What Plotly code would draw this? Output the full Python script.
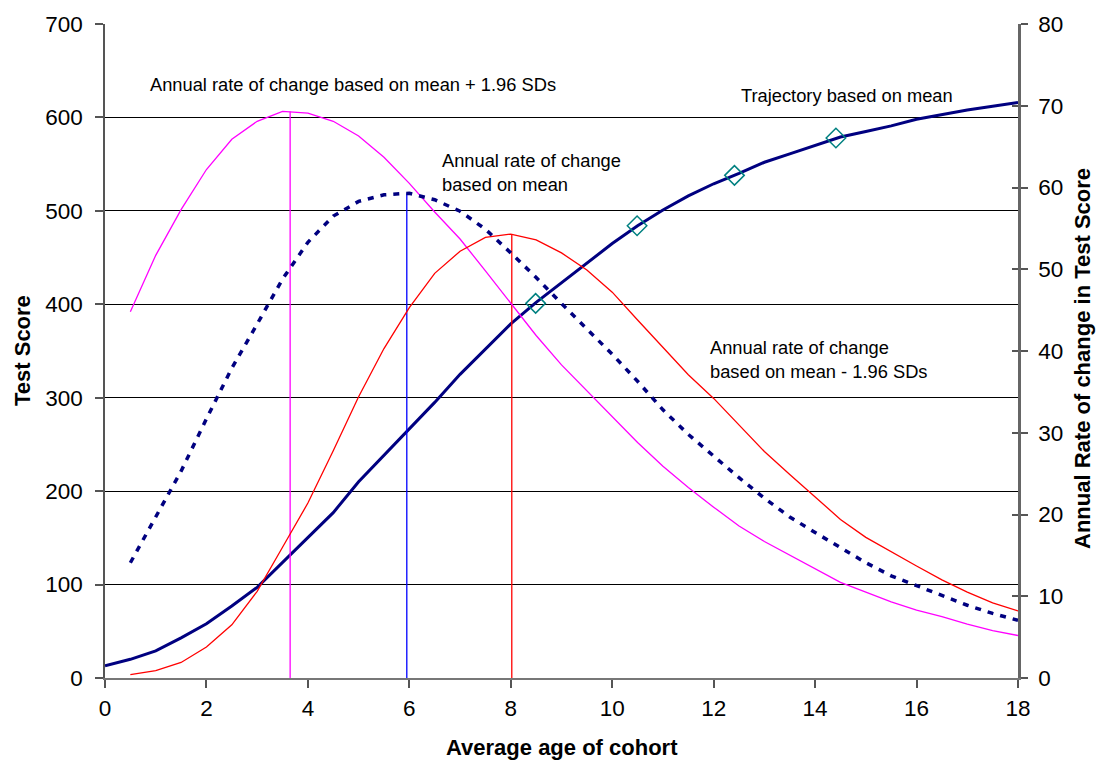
import plotly.graph_objects as go

# ---- data ----
ages_traj = [i * 0.5 for i in range(37)]          # 0 .. 18
trajectory = [13, 20, 29, 43, 58, 77, 97, 124, 151, 177, 210, 238, 266, 295, 325, 352,
              379, 402, 423, 444, 465, 484, 501, 516, 529, 540, 552, 561, 570, 579, 585,
              591, 598, 603, 608, 612, 616]

ages_rate = [0.5 + i * 0.5 for i in range(36)]    # 0.5 .. 18
rate_mean = [14.1, 19.6, 25.3, 31.7, 37.9, 43.3, 48.8, 53.3, 56.5, 58.3, 59.1, 59.3,
             58.5, 57.1, 54.9, 52.0, 49.0, 45.8, 42.7, 39.6, 36.3, 32.8, 29.8, 27.1,
             24.5, 22.0, 19.7, 17.8, 16.0, 14.1, 12.5, 11.3, 10.1, 8.9, 7.9, 7.05]
rate_plus = [44.8, 51.7, 57.3, 62.2, 65.9, 68.1, 69.3, 69.1, 68.1, 66.3, 63.7, 60.5,
             57.0, 53.7, 49.8, 45.8, 41.9, 38.3, 35.1, 31.9, 28.8, 25.9, 23.3, 20.9,
             18.6, 16.7, 15.0, 13.3, 11.7, 10.5, 9.3, 8.3, 7.5, 6.6, 5.8, 5.2]
rate_minus = [0.4, 0.9, 1.9, 3.8, 6.5, 10.6, 16.0, 21.4, 27.8, 34.4, 40.3, 45.3,
              49.5, 52.2, 53.9, 54.3, 53.6, 52.0, 49.9, 47.2, 43.8, 40.5, 37.1, 34.2,
              31.0, 27.7, 24.9, 22.1, 19.4, 17.2, 15.4, 13.7, 12.0, 10.5, 9.2, 8.2]

marker_ages = [8.49, 10.49, 12.41, 14.41]
marker_scores = [401, 484, 538, 578]

peak_ages = [3.65, 5.95, 8.02]        # plus, mean, minus
peak_rates = [69.3, 59.3, 54.2]
peak_colors = ["#ff00ff", "#0000ff", "#ff0000"]

x_ticks = [0, 2, 4, 6, 8, 10, 12, 14, 16, 18]
left_ticks = [0, 100, 200, 300, 400, 500, 600, 700]
right_ticks = [0, 10, 20, 30, 40, 50, 60, 70, 80]

FONT = "Liberation Sans, Arial, sans-serif"
TICK_SIZE = 22.5

fig = go.Figure()

# vertical peak lines (right axis)
for a, r, c in zip(peak_ages, peak_rates, peak_colors):
    fig.add_trace(go.Scatter(x=[a, a], y=[0, r], mode="lines",
                             line=dict(color=c, width=1.3), yaxis="y2",
                             showlegend=False, hoverinfo="skip"))

fig.add_trace(go.Scatter(x=ages_rate, y=rate_plus, mode="lines",
                         line=dict(color="#ff00ff", width=1.3), yaxis="y2",
                         showlegend=False))
fig.add_trace(go.Scatter(x=ages_rate, y=rate_minus, mode="lines",
                         line=dict(color="#ff0000", width=1.3), yaxis="y2",
                         showlegend=False))
fig.add_trace(go.Scatter(x=ages_rate, y=rate_mean, mode="lines",
                         line=dict(color="#000080", width=3.5, dash="6px,7px"),
                         yaxis="y2", showlegend=False))
fig.add_trace(go.Scatter(x=ages_traj, y=trajectory, mode="lines",
                         line=dict(color="#000080", width=3), yaxis="y",
                         showlegend=False))
fig.add_trace(go.Scatter(x=marker_ages, y=marker_scores, mode="markers",
                         marker=dict(symbol="diamond-open", size=15, color="#008080",
                                     line=dict(width=1.5, color="#008080")),
                         yaxis="y", showlegend=False))

# dummy trace to make inside ticks on right axis
fig.add_trace(go.Scatter(x=[0], y=[0], yaxis="y3", mode="markers",
                         marker=dict(opacity=0), showlegend=False, hoverinfo="skip"))

fig.update_layout(
    width=1099, height=763,
    margin=dict(l=105, r=81, t=20, b=85),
    paper_bgcolor="white", plot_bgcolor="white",
    font=dict(family=FONT, color="black"),
    xaxis=dict(range=[0, 18], tickvals=x_ticks, ticks="outside", ticklen=8,
               tickcolor="#555", tickwidth=1.5, showline=True, linecolor="#777",
               linewidth=2, showgrid=False, zeroline=False, ticklabelstandoff=1,
               tickfont=dict(size=TICK_SIZE, family=FONT)),
    yaxis=dict(range=[0, 700], tickvals=left_ticks, ticks="outside", ticklen=8,
               tickcolor="#555", tickwidth=1.5, showline=True, linecolor="#555",
               linewidth=1.5, showgrid=True, gridcolor="black", gridwidth=1,
               zeroline=False, ticklabelstandoff=8,
               tickfont=dict(size=TICK_SIZE, family=FONT)),
    yaxis2=dict(range=[0, 80], tickvals=right_ticks, overlaying="y", side="right",
                ticks="outside", ticklen=7, tickcolor="#555", tickwidth=1.5,
                showline=True, linecolor="#666", linewidth=2.5, showgrid=False,
                zeroline=False, ticklabelstandoff=6,
                tickfont=dict(size=TICK_SIZE, family=FONT)),
    yaxis3=dict(range=[0, 80], tickvals=right_ticks, overlaying="y", side="right",
                ticks="inside", ticklen=6, tickcolor="#555", tickwidth=1.5,
                showticklabels=False, showline=False, showgrid=False, zeroline=False),
)

def px2paper_x(px):
    return (px - 105) / 913.0

def px2paper_y(py):
    return (678 - py) / 658.0

ann_font = dict(family=FONT, size=18.3, color="black")
fig.add_annotation(x=0.85, y=635, xref="x", yref="y", xanchor="left", yanchor="middle",
                   text="Annual rate of change based on mean + 1.96 SDs",
                   showarrow=False, font=ann_font, align="left")
fig.add_annotation(x=6.6, y=541.5, xref="x", yref="y", xanchor="left", yanchor="middle",
                   text="Annual rate of change<br>based on mean",
                   showarrow=False, font=ann_font, align="left")
fig.add_annotation(x=12.5, y=623.4, xref="x", yref="y", xanchor="left", yanchor="middle",
                   text="Trajectory based on mean",
                   showarrow=False, font=ann_font, align="left")
fig.add_annotation(x=11.89, y=340.4, xref="x", yref="y", xanchor="left", yanchor="middle",
                   text="Annual rate of change<br>based on mean - 1.96 SDs",
                   showarrow=False, font=ann_font, align="left")

title_font = dict(family=FONT, size=22, color="black")
fig.add_annotation(x=px2paper_x(562), y=px2paper_y(748), xref="paper", yref="paper",
                   text="<b>Average age of cohort</b>", showarrow=False, font=title_font,
                   xanchor="center", yanchor="middle")
fig.add_annotation(x=px2paper_x(22), y=px2paper_y(349), xref="paper", yref="paper",
                   text="<b>Test Score</b>", showarrow=False, font=title_font,
                   textangle=-90, xanchor="center", yanchor="middle")
fig.add_annotation(x=px2paper_x(1083), y=px2paper_y(357), xref="paper", yref="paper",
                   text="<b>Annual Rate of change in Test Score</b>", showarrow=False,
                   font=title_font, textangle=-90, xanchor="center", yanchor="middle")

fig.write_html("out.html")
